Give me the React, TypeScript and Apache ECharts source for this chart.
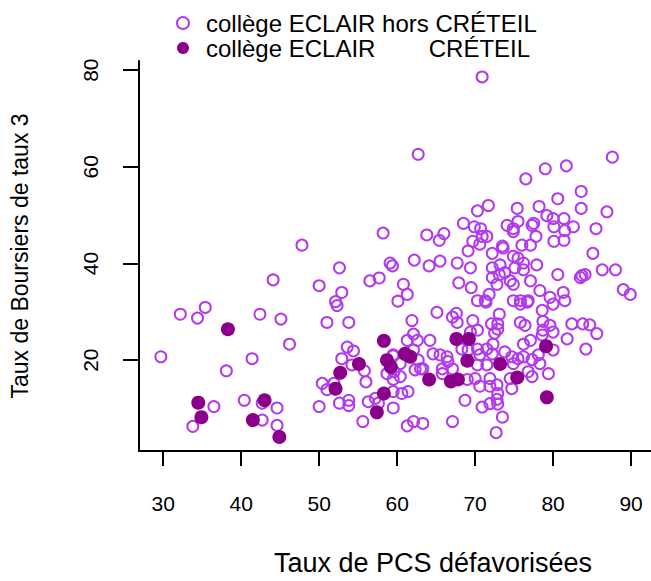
import React, { useEffect, useRef } from "react";
import * as echarts from "echarts";

const seriesHors = "collège ECLAIR hors CRÉTEIL";
const seriesCreteil = "collège ECLAIR        CRÉTEIL";
const xTicks = [30, 40, 50, 60, 70, 80, 90];
const yTicks = [20, 40, 60, 80];
const xTitle = "Taux de PCS défavorisées";
const yTitle = "Taux de Boursiers de taux 3";

const horsLeft: [number, number][] = [
  [29.7, 20.7], [32.2, 29.5], [34.4, 28.7], [35.4, 30.9], [33.8, 6.3], [36.5, 10.4], [38.1, 17.8], [41.4, 20.3],
  [46.2, 23.3], [40.4, 11.7], [42.7, 11.1], [44.6, 10.1], [42.7, 7.6], [44.6, 6.5], [42.4, 29.5], [45.1, 28.5],
  [44.1, 36.6], [47.8, 43.8], [50.0, 10.4], [50.4, 15.2], [51.9, 15.2], [51.0, 13.9], [52.6, 11.1], [53.8, 11.7],
  [53.8, 10.6], [55.6, 7.3], [52.9, 20.3], [53.6, 22.7], [54.4, 21.9], [54.2, 19.0], [55.8, 17.8], [56.0, 15.5],
  [56.3, 11.4], [57.2, 12.1], [57.6, 11.1], [59.5, 10.1], [59.5, 20.9], [59.6, 17.6], [59.5, 13.5], [50.0, 35.4],
  [52.6, 39.1], [52.9, 34.0], [52.1, 32.1], [52.3, 31.3], [51.0, 27.8], [53.8, 27.8], [56.5, 36.4], [57.7, 37.0],
  [58.2, 46.3], [59.1, 40.1], [59.4, 39.5],
];

const horsTop: [number, number][] = [
  [70.9, 78.6], [62.7, 62.6], [76.5, 57.5], [79.0, 59.6], [81.7, 60.2], [87.6, 62.0], [83.6, 54.9], [80.6, 53.4],
  [83.6, 51.4], [86.9, 50.7], [85.5, 47.2], [85.1, 42.1], [86.3, 38.7], [88.0, 38.7], [89.0, 34.6], [89.9, 33.6],
  [70.3, 50.9], [71.7, 52.0], [68.5, 48.3], [69.9, 47.6], [70.7, 47.2], [70.9, 45.6], [71.5, 45.6], [70.6, 44.0],
  [69.7, 44.6], [69.1, 42.6], [63.8, 45.9], [65.4, 44.8], [66.0, 46.2], [62.2, 40.7], [64.1, 39.5], [65.5, 40.5],
  [67.7, 40.1], [69.4, 39.1], [67.9, 36.0], [69.5, 35.0], [70.3, 32.3], [71.3, 32.3], [72.2, 42.1], [73.2, 39.7],
  [73.6, 43.2], [74.1, 47.9], [74.9, 47.2], [75.4, 51.4], [75.5, 48.7], [74.9, 46.6], [77.3, 47.9], [77.5, 48.3],
  [77.8, 45.6], [77.1, 43.8], [76.0, 43.8], [78.2, 51.8], [79.2, 49.9], [80.0, 49.3], [81.4, 49.3], [80.1, 47.6],
  [81.5, 46.8], [82.6, 47.6], [80.1, 44.6], [81.4, 44.8], [80.6, 37.7], [83.5, 37.1], [84.1, 37.7], [74.9, 41.5],
  [75.5, 41.1], [76.2, 40.1], [75.1, 39.1], [76.2, 38.7], [77.9, 39.7], [73.5, 43.6], [72.2, 39.1], [73.1, 37.7],
  [73.8, 38.1], [72.2, 37.1], [72.8, 35.7], [74.5, 36.4], [74.9, 35.7], [77.1, 36.4], [78.3, 34.4], [79.6, 33.0],
  [81.3, 34.0], [81.5, 32.3], [83.7, 37.5], [71.8, 33.6], [74.9, 32.3], [75.8, 32.3], [76.8, 32.3], [60.8, 35.7],
  [61.3, 33.6],
];

const horsMiddle: [number, number][] = [
  [61.3, 6.4], [62.1, 7.3], [63.3, 6.9], [67.1, 7.3], [68.7, 11.7], [70.9, 10.3], [71.9, 11.0], [72.8, 11.9],
  [72.9, 10.9], [73.5, 8.2], [72.7, 5.0], [60.1, 32.2], [65.1, 29.9], [67.1, 28.9], [67.6, 29.7], [67.7, 27.8],
  [71.4, 32.0], [61.9, 28.2], [69.7, 28.2], [69.4, 25.8], [70.3, 26.2], [72.1, 27.5], [72.9, 27.5], [73.1, 29.5],
  [72.9, 26.4], [72.5, 25.6], [75.8, 31.6], [76.7, 32.0], [78.6, 30.3], [75.8, 27.8], [76.4, 27.2], [78.7, 28.0],
  [79.6, 27.2], [80.0, 25.8], [78.7, 26.2], [81.8, 24.4], [82.4, 27.5], [80.0, 31.6], [61.3, 24.1], [62.6, 24.1],
  [64.2, 24.1], [62.1, 25.4], [59.5, 21.1], [60.4, 19.3], [62.1, 22.1], [62.7, 20.0], [63.0, 18.2], [62.3, 18.0],
  [64.6, 21.3], [65.5, 21.1], [66.4, 20.7], [66.5, 19.7], [65.8, 18.2], [67.1, 18.2], [65.8, 17.2], [68.3, 22.3],
  [69.1, 22.1], [70.3, 22.3], [70.6, 21.1], [71.5, 22.3], [72.3, 23.3], [72.2, 21.3], [70.3, 19.0], [71.5, 19.0],
  [69.0, 16.0], [70.0, 16.2], [70.6, 14.6], [71.9, 14.6], [72.8, 14.9], [72.9, 13.1], [71.9, 16.2], [73.8, 21.7],
  [74.7, 20.7], [74.9, 19.3], [75.5, 20.3], [76.2, 20.7], [77.3, 20.1], [78.3, 19.3], [78.1, 21.1], [79.4, 17.2],
  [76.8, 17.6], [77.3, 16.6], [74.5, 16.2], [74.7, 14.1], [77.1, 24.1], [76.2, 23.3], [78.6, 25.2], [80.0, 22.1],
  [58.7, 17.2], [59.5, 16.0], [60.4, 16.6], [60.6, 13.1], [61.4, 13.5], [63.3, 18.2], [83.8, 27.5], [84.7, 27.3],
  [85.6, 25.5], [84.2, 22.3],
];

const creteil: [number, number][] = [
  [34.5, 11.2], [34.9, 8.2], [38.3, 26.4], [43.0, 11.7], [41.5, 7.6], [44.9, 4.1], [52.1, 14.1], [52.7, 17.4],
  [55.1, 19.2], [58.3, 24.0], [58.7, 20.0], [59.2, 18.6], [58.3, 13.1], [57.4, 9.2], [61.0, 21.3], [61.7, 20.7],
  [64.1, 16.0], [67.6, 24.4], [69.2, 24.4], [69.0, 19.9], [66.9, 15.6], [67.8, 16.0], [73.2, 19.2], [75.4, 16.4],
  [79.1, 22.9], [79.2, 12.3],
];

const OPEN = "#B23AEE";
const FILLED = "#8B008B";
const FONT = "Liberation Sans";

export default function App() {
  const ref = useRef<HTMLDivElement>(null);
  useEffect(() => {
    if (!ref.current) return;
    const chart = echarts.init(ref.current, undefined, { renderer: "svg" });
    chart.setOption({
      animation: false,
      backgroundColor: "#ffffff",
      textStyle: { fontFamily: FONT, color: "#000" },
      legend: {
        orient: "vertical",
        left: 171,
        top: 6,
        itemGap: 1,
        itemWidth: 12,
        itemHeight: 12,
        textStyle: { fontSize: 24, color: "#000", fontFamily: FONT, padding: [0, 0, 0, 12] },
        data: [
          { name: seriesHors, icon: "circle", itemStyle: { color: "rgba(0,0,0,0)", borderColor: OPEN, borderWidth: 2, opacity: 1 } },
          { name: seriesCreteil, icon: "circle", itemStyle: { color: FILLED, opacity: 1 } },
        ],
      },
      grid: { left: 139, top: 61, width: 588, height: 394 },
      xAxis: {
        type: "value",
        min: 26.9,
        max: 102.3,
        splitLine: { show: false },
        axisLine: { show: true, onZero: false, lineStyle: { color: "#000", width: 2 } },
        axisTick: { show: true, length: 15, customValues: xTicks, lineStyle: { color: "#000", width: 2 } },
        axisLabel: { customValues: xTicks, fontSize: 21, color: "#000", margin: 42, fontFamily: FONT },
        name: xTitle,
        nameLocation: "middle",
        nameGap: 98,
        nameTextStyle: { fontSize: 27, color: "#000", fontFamily: FONT },
      },
      yAxis: {
        type: "value",
        min: 1.2,
        max: 81.9,
        splitLine: { show: false },
        axisLine: { show: true, onZero: false, lineStyle: { color: "#000", width: 2 } },
        axisTick: { show: true, length: 16, customValues: yTicks, lineStyle: { color: "#000", width: 2 } },
        axisLabel: { customValues: yTicks, fontSize: 21, color: "#000", margin: 38, rotate: 90, fontFamily: FONT },
        name: yTitle,
        nameLocation: "middle",
        nameGap: 108,
        nameTextStyle: { fontSize: 23, color: "#000", fontFamily: FONT },
      },
      series: [
        {
          name: seriesHors,
          type: "scatter",
          data: [...horsLeft, ...horsTop, ...horsMiddle],
          symbol: "circle",
          symbolSize: 11,
          itemStyle: { color: "rgba(0,0,0,0)", borderColor: OPEN, borderWidth: 2, opacity: 1 },
        },
        {
          name: seriesCreteil,
          type: "scatter",
          data: creteil,
          symbol: "circle",
          symbolSize: 14,
          itemStyle: { color: FILLED, opacity: 1 },
        },
      ],
    });
    return () => chart.dispose();
  }, []);
  return (
    <div style={{ position: "absolute", left: 0, top: 0, width: 651, height: 581, overflow: "hidden" }}>
      <div ref={ref} style={{ width: 760, height: 581 }} />
    </div>
  );
}
